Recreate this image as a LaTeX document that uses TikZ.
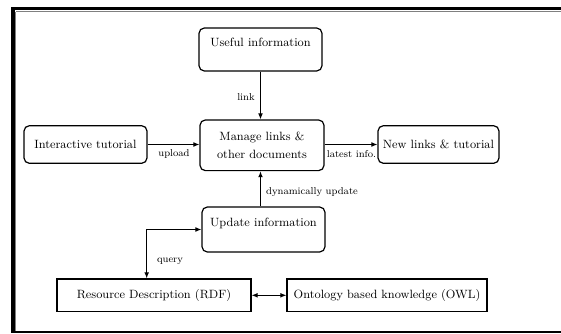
\documentclass[tikz,border=0pt]{standalone}
\usetikzlibrary{arrows.meta,positioning}
\begin{document}
\begin{tikzpicture}[x=0.75pt, y=-0.75pt,
    roundbox/.style={rectangle, rounded corners=4pt, draw, line width=0.9pt,
      font=\fontsize{9}{13.5}\selectfont, minimum width=92pt, minimum height=28pt, inner sep=0pt},
    flatbox/.style={rectangle, draw, line width=0.9pt, font=\fontsize{9}{11}\selectfont,
      minimum height=24.5pt, inner sep=0pt},
    flow/.style={-{Latex[length=4.5pt,width=3.6pt]}, line width=0.75pt},
    flowboth/.style={{Latex[length=4.5pt,width=3.6pt]}-{Latex[length=4.5pt,width=3.6pt]}, line width=0.75pt},
    lbl/.style={font=\fontsize{7.5}{9}\selectfont, inner sep=1pt}
  ]
  \useasboundingbox (0,0) rectangle (561,333);
  % outer frame
  \draw[line width=2.4pt] (11,8.5) -- (561,8.5);
  \draw[line width=3pt] (13,7) -- (13,333);
  \draw[gray, line width=0.9pt] (15.8,11.6) -- (561,11.6);
  \draw[gray, line width=0.9pt] (15.8,11.6) -- (15.8,333);
  \draw[line width=1.1pt] (13,332) -- (561,332);

  % boxes
  \node[roundbox, minimum width=92.25pt, text height=13.5pt, text depth=18.75pt] (useful) at (260.5,49.5) {Useful information};
  \node[roundbox, minimum width=92.25pt, minimum height=28.2pt] (tutorial) at (85.5,144.5) {Interactive tutorial};
  \node[roundbox, align=center, minimum width=93pt, minimum height=38pt] (manage) at (262,145.3) {Manage links \&\\ other documents};
  \node[roundbox, minimum width=90.75pt, minimum height=28.2pt] (newlinks) at (438.5,144.5) {New links \& tutorial};
  \node[roundbox, minimum width=92.25pt, text height=14.25pt, text depth=19.5pt] (update) at (263.5,229.5) {Update information};
  \node[flatbox, minimum width=145.5pt] (rdf) at (154,295.3) {Resource Description (RDF)};
  \node[flatbox, minimum width=150pt] (owl) at (387,295.3) {Ontology based knowledge (OWL)};

  % connectors
  \draw[flow] (useful.south) -- (useful.south |- manage.north);
  \draw[flow] (tutorial.east) -- (tutorial.east -| manage.west);
  \draw[flow] (manage.east |- newlinks.west) -- (newlinks.west);
  \draw[flow] (useful.south |- update.north) -- (useful.south |- manage.south);
  \coordinate (qbend) at (146.7,229.5);
  \draw[flowboth] (rdf.north -| qbend) -- (qbend) -- (update.west);
  \draw[flowboth] (rdf) -- (owl);

  % labels
  \node[lbl] (linklbl) at (246,97) {link};
  \node[lbl] (uploadlbl) at (174,154) {upload};
  \node[lbl] (latestlbl) at (351.5,154) {latest info.};
  \node[lbl] (dynlbl) at (312,191.7) {dynamically update};
  \node[lbl] (querylbl) at (170,261.7) {query};
\end{tikzpicture}
\end{document}
